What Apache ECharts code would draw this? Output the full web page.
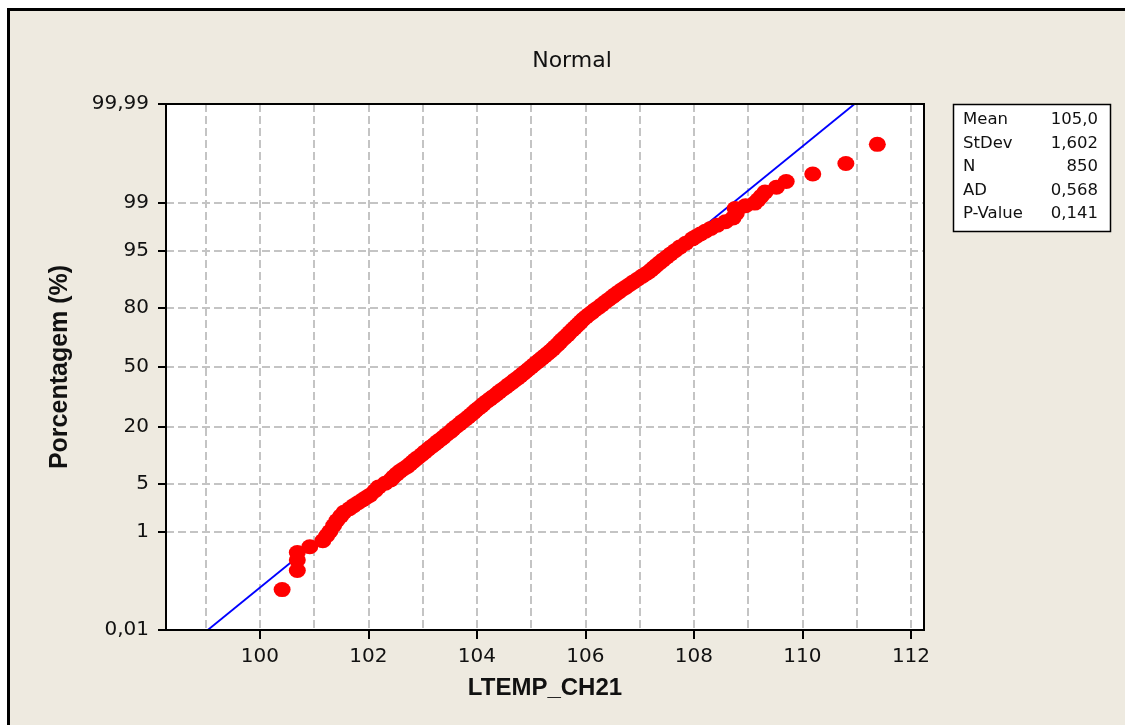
<!DOCTYPE html>
<html>
<head>
<meta charset="utf-8">
<title>Normal probability plot - LTEMP_CH21</title>
<script src="https://cdn.jsdelivr.net/npm/echarts@6/dist/echarts.min.js"></script>
<style>
  html, body { margin: 0; padding: 0; background: #fff; }
  #main { width: 1125px; height: 725px; }
</style>
</head>
<body>
<div id="main"></div>
<script>
// sorted sample: value and its plotting percent
var ptX = [
  100.41, 100.69, 100.69, 100.69, 100.92,
  101.16, 101.23, 101.29, 101.36, 101.42, 101.49, 101.55, 101.65, 101.73, 101.81,
  101.89, 101.96, 102.03, 102.12, 102.19, 102.31, 102.41, 102.46, 102.52, 102.58,
  102.65, 102.72, 102.77, 102.82, 102.86, 102.91, 102.98, 103.04, 103.10, 103.16,
  103.22, 103.27, 103.33, 103.38, 103.44, 103.51, 103.56, 103.62, 103.68, 103.73,
  103.79, 103.84, 103.89, 103.94, 103.98, 104.03, 104.08, 104.12, 104.18, 104.24,
  104.30, 104.36, 104.41, 104.47, 104.53, 104.58, 104.64, 104.69, 104.75, 104.80,
  104.85, 104.90, 104.95, 105.00, 105.05, 105.10, 105.15, 105.20, 105.25, 105.30,
  105.35, 105.40, 105.44, 105.49, 105.53, 105.57, 105.62, 105.67, 105.71, 105.76,
  105.80, 105.84, 105.88, 105.92, 105.96, 106.01, 106.06, 106.12, 106.17, 106.24,
  106.30, 106.36, 106.43, 106.50, 106.55, 106.61, 106.67, 106.74, 106.81, 106.88,
  106.96, 107.04, 107.10, 107.16, 107.21, 107.26, 107.31, 107.37, 107.43, 107.50,
  107.57, 107.65, 107.74, 107.85, 107.97, 108.04, 108.12, 108.21, 108.31, 108.43,
  108.58, 108.72, 108.78, 108.76, 108.95,
  109.12, 109.18, 109.24, 109.31, 109.52, 109.70, 110.19, 110.80, 111.38
];
var ptPct = [
  0.0823, 0.1999, 0.3175, 0.4351, 0.5527,
  0.7, 0.85, 1.0, 1.25, 1.5, 1.75, 2.0, 2.25, 2.5, 2.75,
  3.0, 3.25, 3.5, 4.0, 4.5, 5.0, 5.5, 6.0, 6.5, 7.0,
  7.5, 8.0, 8.5, 9.0, 9.5, 10, 10.75, 11.5, 12.25, 13,
  13.75, 14.5, 15.25, 16, 17, 18, 19, 20, 21, 22,
  23, 24, 25, 26, 27, 28, 29, 30, 31.25, 32.5,
  33.75, 35, 36.25, 37.5, 38.75, 40, 41.25, 42.5, 43.75, 45,
  46.25, 47.5, 48.75, 50, 51.25, 52.5, 53.75, 55, 56.25, 57.5,
  58.75, 60, 61.25, 62.5, 63.75, 65, 66.25, 67.5, 68.75, 70,
  71, 72, 73, 74, 75, 76, 77, 78, 79, 80,
  81, 82, 83, 84, 84.75, 85.5, 86.25, 87, 87.75, 88.5,
  89.25, 90, 90.5, 91, 91.5, 92, 92.5, 93, 93.5, 94,
  94.5, 95, 95.5, 96, 96.5, 96.75, 97, 97.25, 97.5, 97.75,
  98, 98.25, 98.5, 98.75, 98.87,
  98.977, 99.095, 99.212, 99.330, 99.447, 99.565, 99.683, 99.800, 99.918
];
// fitted normal line (mean 105,0 / sd 1,602)
var lineX = [99.04, 110.96];
var linePct = [0.01, 99.99];

var yTickPct = [0.01, 1, 5, 20, 50, 80, 95, 99, 99.99];
var yTickText = ['0,01', '1', '5', '20', '50', '80', '95', '99', '99,99'];
var yGridPct = [1, 5, 20, 50, 80, 95, 99];
var xTicks = [100, 102, 104, 106, 108, 110, 112];
var xGrid = [99, 100, 101, 102, 103, 104, 105, 106, 107, 108, 109, 110, 111, 112];

var statNames = ['Mean', 'StDev', 'N', 'AD', 'P-Value'];
var statValues = ['105,0', '1,602', '850', '0,568', '0,141'];

// inverse normal cdf (Acklam), used as the probability axis transform
function probit(p) {
  var a = [-39.69683028665376, 220.9460984245205, -275.9285104469687, 138.3577518672690, -30.66479806614716, 2.506628277459239];
  var b = [-54.47609879822406, 161.5858589653896, -155.6989798598866, 66.80131188771972, -13.28068155288572];
  var c = [-0.007784894002430293, -0.3223964580411365, -2.400758277161838, -2.549732539343734, 4.374664141464968, 2.938163982698783];
  var d = [0.007784695709041462, 0.3224671290700398, 2.445134137142996, 3.754408661907416];
  var pl = 0.02425, q, r;
  if (p < pl) {
    q = Math.sqrt(-2 * Math.log(p));
    return (((((c[0]*q+c[1])*q+c[2])*q+c[3])*q+c[4])*q+c[5]) / ((((d[0]*q+d[1])*q+d[2])*q+d[3])*q+1);
  }
  if (p > 1 - pl) {
    q = Math.sqrt(-2 * Math.log(1 - p));
    return -(((((c[0]*q+c[1])*q+c[2])*q+c[3])*q+c[4])*q+c[5]) / ((((d[0]*q+d[1])*q+d[2])*q+d[3])*q+1);
  }
  q = p - 0.5; r = q * q;
  return (((((a[0]*r+a[1])*r+a[2])*r+a[3])*r+a[4])*r+a[5])*q / (((((b[0]*r+b[1])*r+b[2])*r+b[3])*r+b[4])*r+1);
}
function z(pct) { return probit(pct / 100); }

var yTickZ = yTickPct.map(z);
var yGridZ = yGridPct.map(z);
var zMin = z(0.01), zMax = z(99.99);

var points = ptX.map(function (x, i) { return [x, z(ptPct[i])]; });
var fit = lineX.map(function (x, i) { return [x, z(linePct[i])]; });

var FONT = 'DejaVu Sans';
var gridDash = { color: '#c4c4c4', width: 2, type: [8, 4] };

var G = { left: 166, top: 104, right: 924, bottom: 630 };

// stats box + plot frame drawn on top
var box = [{
  type: 'rect',
  z: 100,
  shape: { x: G.left, y: G.top, width: G.right - G.left, height: G.bottom - G.top },
  style: { fill: null, stroke: '#000', lineWidth: 2 }
}, {
  type: 'rect',
  shape: { x: 953.5, y: 104.5, width: 157, height: 127 },
  style: { fill: '#fff', stroke: '#000', lineWidth: 1.5 }
}];
statNames.forEach(function (n, i) {
  var y = 120 + i * 23.5;
  box.push({ type: 'text', x: 963, y: y,
    style: { text: n, font: '16.5px "' + FONT + '"', fill: '#111', align: 'left', verticalAlign: 'middle' } });
  box.push({ type: 'text', x: 1098, y: y,
    style: { text: statValues[i], font: '16.5px "' + FONT + '"', fill: '#111', align: 'right', verticalAlign: 'middle' } });
});

var myChart = echarts.init(document.getElementById('main'));

var option = {
  backgroundColor: '#fff',
  animation: false,
  textStyle: { fontFamily: FONT },
  title: {
    text: 'Normal',
    left: 567,
    top: 45,
    textAlign: 'center',
    textStyle: { fontFamily: FONT, fontSize: 22, fontWeight: 'normal', color: '#111' }
  },
  graphic: [{
    type: 'rect',
    z: -10,
    shape: { x: 8.5, y: 9.5, width: 1300, height: 900 },
    style: { fill: '#eeeae0', stroke: '#000', lineWidth: 3 }
  }].concat(box),
  grid: {
    left: G.left, top: G.top, right: 1125 - G.right, bottom: 725 - G.bottom,
    show: true,
    backgroundColor: '#fff',
    borderWidth: 0
  },
  xAxis: [
    {
      // vertical dashed grid at every unit
      type: 'value',
      min: 98.27, max: 112.24,
      axisLine: { show: false, onZero: false },
      axisTick: { show: false, customValues: xGrid },
      axisLabel: { show: false },
      splitLine: { show: true, lineStyle: gridDash }
    },
    {
      type: 'value',
      position: 'bottom',
      min: 98.27, max: 112.24,
      name: 'LTEMP_CH21',
      nameLocation: 'middle',
      nameGap: 46,
      nameTextStyle: { fontFamily: 'Liberation Sans', fontSize: 24, fontWeight: 'bold', color: '#111' },
      axisLine: { show: true, onZero: false, lineStyle: { color: '#000', width: 2 } },
      axisTick: { show: true, length: 9, customValues: xTicks, lineStyle: { color: '#000', width: 2 } },
      axisLabel: { customValues: xTicks, margin: 17, fontSize: 20, color: '#111', fontFamily: FONT },
      splitLine: { show: false }
    }
  ],
  yAxis: [
    {
      // horizontal dashed grid at the inner probability ticks
      type: 'value',
      min: zMin, max: zMax,
      axisLine: { show: false, onZero: false },
      axisTick: { show: false, customValues: yGridZ },
      axisLabel: { show: false },
      splitLine: { show: true, lineStyle: gridDash }
    },
    {
      type: 'value',
      position: 'left',
      min: zMin, max: zMax,
      name: 'Porcentagem (%)',
      nameLocation: 'middle',
      nameGap: 93,
      nameTextStyle: { fontFamily: 'Liberation Sans', fontSize: 25, fontWeight: 'bold', color: '#111' },
      axisLine: { show: true, onZero: false, lineStyle: { color: '#000', width: 2 } },
      axisTick: { show: true, length: 8, customValues: yTickZ, lineStyle: { color: '#000', width: 2 } },
      axisLabel: {
        customValues: yTickZ,
        margin: 17,
        fontSize: 20,
        color: '#111',
        fontFamily: FONT,
        formatter: function (v) {
          for (var i = 0; i < yTickZ.length; i++) {
            if (Math.abs(yTickZ[i] - v) < 1e-6) return yTickText[i];
          }
          return '';
        }
      },
      splitLine: { show: false }
    }
  ],
  series: [
    {
      name: 'fit',
      type: 'line',
      xAxisIndex: 1,
      yAxisIndex: 1,
      data: fit,
      symbol: 'none',
      lineStyle: { color: '#0000ff', width: 1.8 },
      z: 2
    },
    {
      name: 'LTEMP_CH21',
      type: 'scatter',
      xAxisIndex: 1,
      yAxisIndex: 1,
      data: points,
      symbol: 'circle',
      symbolSize: [17, 15],
      itemStyle: { color: '#ff0000', opacity: 1 },
      z: 3
    }
  ]
};
myChart.setOption(option);
</script>
</body>
</html>
